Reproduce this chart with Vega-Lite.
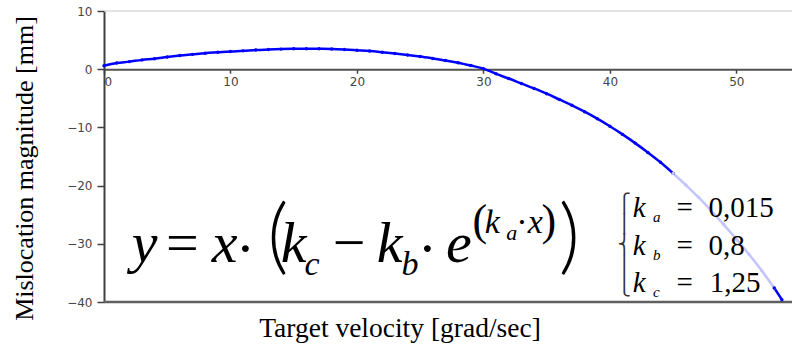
{
  "$schema": "https://vega.github.io/schema/vega-lite/v6.json",
  "width": 688,
  "height": 291,
  "autosize": "none",
  "padding": {"left": 104, "top": 11, "right": 0, "bottom": 52},
  "background": "white",
  "config": {"view": {"stroke": null}},
  "title": {
    "text": "Target velocity [grad/sec]",
    "orient": "bottom",
    "font": "Liberation Serif",
    "fontSize": 27.5,
    "fontWeight": "normal",
    "color": "black",
    "offset": -5,
    "dx": -48
  },
  "datasets": {
    "curve": [
      {"x": 0, "y": 0.6, "seg": "s1", "shade": "dark"},
      {"x": 1, "y": 1.05, "seg": "s1", "shade": "dark"},
      {"x": 2, "y": 1.3, "seg": "s1", "shade": "dark"},
      {"x": 3, "y": 1.6, "seg": "s1", "shade": "dark"},
      {"x": 4, "y": 1.8, "seg": "s1", "shade": "dark"},
      {"x": 5, "y": 2.1, "seg": "s1", "shade": "dark"},
      {"x": 6, "y": 2.35, "seg": "s1", "shade": "dark"},
      {"x": 7, "y": 2.55, "seg": "s1", "shade": "dark"},
      {"x": 8, "y": 2.75, "seg": "s1", "shade": "dark"},
      {"x": 9, "y": 2.9, "seg": "s1", "shade": "dark"},
      {"x": 10, "y": 3.05, "seg": "s1", "shade": "dark"},
      {"x": 11, "y": 3.15, "seg": "s1", "shade": "dark"},
      {"x": 12, "y": 3.3, "seg": "s1", "shade": "dark"},
      {"x": 13, "y": 3.38, "seg": "s1", "shade": "dark"},
      {"x": 14, "y": 3.45, "seg": "s1", "shade": "dark"},
      {"x": 15, "y": 3.5, "seg": "s1", "shade": "dark"},
      {"x": 16, "y": 3.52, "seg": "s1", "shade": "dark"},
      {"x": 17, "y": 3.5, "seg": "s1", "shade": "dark"},
      {"x": 18, "y": 3.47, "seg": "s1", "shade": "dark"},
      {"x": 19, "y": 3.38, "seg": "s1", "shade": "dark"},
      {"x": 20, "y": 3.25, "seg": "s1", "shade": "dark"},
      {"x": 21, "y": 3.12, "seg": "s1", "shade": "dark"},
      {"x": 22, "y": 2.92, "seg": "s1", "shade": "dark"},
      {"x": 23, "y": 2.7, "seg": "s1", "shade": "dark"},
      {"x": 24, "y": 2.45, "seg": "s1", "shade": "dark"},
      {"x": 25, "y": 2.18, "seg": "s1", "shade": "dark"},
      {"x": 26, "y": 1.85, "seg": "s1", "shade": "dark"},
      {"x": 27, "y": 1.5, "seg": "s1", "shade": "dark"},
      {"x": 28, "y": 1.1, "seg": "s1", "shade": "dark"},
      {"x": 29, "y": 0.62, "seg": "s1", "shade": "dark"},
      {"x": 30, "y": 0.1, "seg": "s1", "shade": "dark"},
      {"x": 31, "y": -0.8, "seg": "s1", "shade": "dark"},
      {"x": 32, "y": -1.6, "seg": "s1", "shade": "dark"},
      {"x": 33, "y": -2.45, "seg": "s1", "shade": "dark"},
      {"x": 34, "y": -3.3, "seg": "s1", "shade": "dark"},
      {"x": 35, "y": -4.2, "seg": "s1", "shade": "dark"},
      {"x": 36, "y": -5.2, "seg": "s1", "shade": "dark"},
      {"x": 37, "y": -6.2, "seg": "s1", "shade": "dark"},
      {"x": 38, "y": -7.3, "seg": "s1", "shade": "dark"},
      {"x": 39, "y": -8.5, "seg": "s1", "shade": "dark"},
      {"x": 40, "y": -9.8, "seg": "s1", "shade": "dark"},
      {"x": 41, "y": -11.2, "seg": "s1", "shade": "dark"},
      {"x": 42, "y": -12.7, "seg": "s1", "shade": "dark"},
      {"x": 43, "y": -14.3, "seg": "s1", "shade": "dark"},
      {"x": 44, "y": -16.0, "seg": "s1", "shade": "dark"},
      {"x": 45, "y": -17.9, "seg": "s1", "shade": "dark"},
      {"x": 45, "y": -17.9, "seg": "s2", "shade": "light"},
      {"x": 46, "y": -19.9, "seg": "s2", "shade": "light"},
      {"x": 47, "y": -22.0, "seg": "s2", "shade": "light"},
      {"x": 48, "y": -24.3, "seg": "s2", "shade": "light"},
      {"x": 49, "y": -26.7, "seg": "s2", "shade": "light"},
      {"x": 50, "y": -29.2, "seg": "s2", "shade": "light"},
      {"x": 51, "y": -31.8, "seg": "s2", "shade": "light"},
      {"x": 52, "y": -34.6, "seg": "s2", "shade": "light"},
      {"x": 53, "y": -37.6, "seg": "s2", "shade": "light"},
      {"x": 53, "y": -37.6, "seg": "s3", "shade": "dark"},
      {"x": 53.6, "y": -39.6, "seg": "s3", "shade": "dark"}
    ],
    "it58": [
      {"x": 2.19, "y": -33.11, "t": "y"},
      {"x": 8.51, "y": -33.11, "t": "x"},
      {"x": 13.97, "y": -33.11, "t": "k"},
      {"x": 21.56, "y": -33.11, "t": "k"},
      {"x": 27.05, "y": -33.11, "t": "e"}
    ],
    "up58": [
      {"x": 4.9, "y": -33.11, "t": "="},
      {"x": 18.08, "y": -33.11, "t": "−"}
    ],
    "dots58": [
      {"x": 10.41, "y": -34.2, "t": "·"},
      {"x": 24.8, "y": -34.2, "t": "·"}
    ],
    "paren80": [
      {"x": 12.9, "y": -33.5, "t": "("},
      {"x": 35.95, "y": -33.5, "t": ")"}
    ],
    "sub34": [
      {"x": 15.86, "y": -35.4, "t": "c"},
      {"x": 23.53, "y": -35.4, "t": "b"}
    ],
    "sup34it": [
      {"x": 30.1, "y": -28.18, "t": "k"},
      {"x": 33.5, "y": -28.18, "t": "x"}
    ],
    "sup34up": [
      {"x": 32.6, "y": -28.18, "t": "·"}
    ],
    "supparen": [
      {"x": 29.14, "y": -28.52, "t": "("},
      {"x": 34.6, "y": -28.52, "t": ")"}
    ],
    "sub22": [
      {"x": 31.8, "y": -29.38, "t": "a"}
    ],
    "brace": [
      {"x": 40.6, "y": -21.65, "t": "⎧\n⎪\n⎨\n⎪\n⎩"}
    ],
    "kk": [
      {"x": 41.8, "y": -25.38, "t": "k"},
      {"x": 41.8, "y": -31.96, "t": "k"},
      {"x": 41.8, "y": -38.26, "t": "k"}
    ],
    "ksub": [
      {"x": 43.4, "y": -26.29, "t": "a"},
      {"x": 43.4, "y": -32.82, "t": "b"},
      {"x": 43.4, "y": -39.18, "t": "c"}
    ],
    "kval": [
      {"x": 45.27, "y": -25.38, "t": "="},
      {"x": 45.27, "y": -31.96, "t": "="},
      {"x": 45.27, "y": -38.26, "t": "="},
      {"x": 47.8, "y": -25.38, "t": "0,015"},
      {"x": 47.8, "y": -31.96, "t": "0,8"},
      {"x": 47.9, "y": -38.26, "t": "1,25"}
    ]
  },
  "layer": [
    {
      "data": {"name": "curve"},
      "mark": {"type": "line", "strokeWidth": 2.5, "interpolate": "monotone"},
      "encoding": {
        "x": {
          "field": "x", "type": "quantitative",
          "scale": {"domain": [0, 54.4], "nice": false, "zero": false},
          "axis": {
            "title": null, "offset": -232.8, "orient": "bottom",
            "values": [0, 10, 20, 30, 40, 50],
            "grid": false,
            "domainColor": "#505050", "domainWidth": 2,
            "tickColor": "#404040", "tickSize": 4, "tickWidth": 1.5,
            "labelColor": "#454545", "labelFont": "DejaVu Sans", "labelFontSize": 12,
            "labelPadding": 3
          }
        },
        "y": {
          "field": "y", "type": "quantitative",
          "scale": {"domain": [-40, 10], "nice": false, "zero": false},
          "axis": {
            "title": "Mislocation magnitude [mm]",
            "titleFont": "Liberation Serif", "titleFontSize": 26, "titleFontWeight": "normal",
            "titleColor": "black",
            "titleX": -80, "titleY": 157, "titleAngle": -90, "titleAlign": "center", "titleBaseline": "middle",
            "values": [-40, -30, -20, -10, 0, 10],
            "grid": false,
            "domainColor": "#404040", "domainWidth": 2,
            "tickColor": "#404040", "tickSize": 7, "tickWidth": 1.5,
            "labelColor": "#454545", "labelFont": "DejaVu Sans", "labelFontSize": 12,
            "labelPadding": 5
          }
        },
        "detail": {"field": "seg"},
        "color": {"field": "shade", "type": "nominal", "legend": null,
          "scale": {"domain": ["dark", "light"], "range": ["#0000ff", "#c4c4ff"]}}
      }
    },
    {
      "data": {"values": [{}]},
      "mark": {"type": "rule", "color": "#c8c8c8", "strokeWidth": 1},
      "encoding": {"y": {"datum": 10, "type": "quantitative"}}
    },
    {
      "data": {"values": [{}]},
      "mark": {"type": "rule", "color": "#606060", "strokeWidth": 2.5},
      "encoding": {"y": {"datum": -40, "type": "quantitative"}}
    },
    {
      "data": {"name": "curve"},
      "mark": {"type": "point", "filled": true, "size": 12, "opacity": 1},
      "encoding": {
        "x": {"field": "x", "type": "quantitative"},
        "y": {"field": "y", "type": "quantitative"},
        "color": {"field": "shade", "type": "nominal", "legend": null,
          "scale": {"domain": ["dark", "light"], "range": ["#0000ff", "#c4c4ff"]}}
      }
    },
    {
      "data": {"name": "it58"},
      "mark": {"type": "text", "font": "Liberation Serif", "fontStyle": "italic", "fontSize": 58, "align": "left", "baseline": "alphabetic", "color": "black"},
      "encoding": {
        "x": {"field": "x", "type": "quantitative"},
        "y": {"field": "y", "type": "quantitative"},
        "text": {"field": "t", "type": "nominal"}
      }
    },
    {
      "data": {"name": "up58"},
      "mark": {"type": "text", "font": "Liberation Serif", "fontSize": 58, "align": "left", "baseline": "alphabetic", "color": "black"},
      "encoding": {
        "x": {"field": "x", "type": "quantitative"},
        "y": {"field": "y", "type": "quantitative"},
        "text": {"field": "t", "type": "nominal"}
      }
    },
    {
      "data": {"name": "dots58"},
      "mark": {"type": "text", "font": "Liberation Serif", "fontSize": 58, "align": "left", "baseline": "alphabetic", "color": "black"},
      "encoding": {
        "x": {"field": "x", "type": "quantitative"},
        "y": {"field": "y", "type": "quantitative"},
        "text": {"field": "t", "type": "nominal"}
      }
    },
    {
      "data": {"name": "paren80"},
      "mark": {"type": "text", "font": "Lato", "fontWeight": 300, "fontSize": 82, "align": "left", "baseline": "alphabetic", "color": "black"},
      "encoding": {
        "x": {"field": "x", "type": "quantitative"},
        "y": {"field": "y", "type": "quantitative"},
        "text": {"field": "t", "type": "nominal"}
      }
    },
    {
      "data": {"name": "sub34"},
      "mark": {"type": "text", "font": "Liberation Serif", "fontStyle": "italic", "fontSize": 34, "align": "left", "baseline": "alphabetic", "color": "black"},
      "encoding": {
        "x": {"field": "x", "type": "quantitative"},
        "y": {"field": "y", "type": "quantitative"},
        "text": {"field": "t", "type": "nominal"}
      }
    },
    {
      "data": {"name": "sup34it"},
      "mark": {"type": "text", "font": "Liberation Serif", "fontStyle": "italic", "fontSize": 34, "align": "left", "baseline": "alphabetic", "color": "black"},
      "encoding": {
        "x": {"field": "x", "type": "quantitative"},
        "y": {"field": "y", "type": "quantitative"},
        "text": {"field": "t", "type": "nominal"}
      }
    },
    {
      "data": {"name": "sup34up"},
      "mark": {"type": "text", "font": "Liberation Serif", "fontSize": 34, "align": "left", "baseline": "alphabetic", "color": "black"},
      "encoding": {
        "x": {"field": "x", "type": "quantitative"},
        "y": {"field": "y", "type": "quantitative"},
        "text": {"field": "t", "type": "nominal"}
      }
    },
    {
      "data": {"name": "supparen"},
      "mark": {"type": "text", "font": "Liberation Serif", "fontSize": 44, "align": "left", "baseline": "alphabetic", "color": "black"},
      "encoding": {
        "x": {"field": "x", "type": "quantitative"},
        "y": {"field": "y", "type": "quantitative"},
        "text": {"field": "t", "type": "nominal"}
      }
    },
    {
      "data": {"name": "sub22"},
      "mark": {"type": "text", "font": "Liberation Serif", "fontStyle": "italic", "fontSize": 22, "align": "left", "baseline": "alphabetic", "color": "black"},
      "encoding": {
        "x": {"field": "x", "type": "quantitative"},
        "y": {"field": "y", "type": "quantitative"},
        "text": {"field": "t", "type": "nominal"}
      }
    },
    {
      "data": {"name": "brace"},
      "mark": {"type": "text", "font": "DejaVu Sans", "fontSize": 18, "lineHeight": 20.6, "lineBreak": "\n", "align": "left", "baseline": "top", "color": "#333333"},
      "encoding": {
        "x": {"field": "x", "type": "quantitative"},
        "y": {"field": "y", "type": "quantitative"},
        "text": {"field": "t", "type": "nominal"}
      }
    },
    {
      "data": {"name": "kk"},
      "mark": {"type": "text", "font": "Liberation Serif", "fontStyle": "italic", "fontSize": 29, "align": "left", "baseline": "alphabetic", "color": "black"},
      "encoding": {
        "x": {"field": "x", "type": "quantitative"},
        "y": {"field": "y", "type": "quantitative"},
        "text": {"field": "t", "type": "nominal"}
      }
    },
    {
      "data": {"name": "ksub"},
      "mark": {"type": "text", "font": "Liberation Serif", "fontStyle": "italic", "fontSize": 15, "align": "left", "baseline": "alphabetic", "color": "black"},
      "encoding": {
        "x": {"field": "x", "type": "quantitative"},
        "y": {"field": "y", "type": "quantitative"},
        "text": {"field": "t", "type": "nominal"}
      }
    },
    {
      "data": {"name": "kval"},
      "mark": {"type": "text", "font": "Liberation Serif", "fontSize": 29, "align": "left", "baseline": "alphabetic", "color": "black"},
      "encoding": {
        "x": {"field": "x", "type": "quantitative"},
        "y": {"field": "y", "type": "quantitative"},
        "text": {"field": "t", "type": "nominal"}
      }
    }
  ]
}
